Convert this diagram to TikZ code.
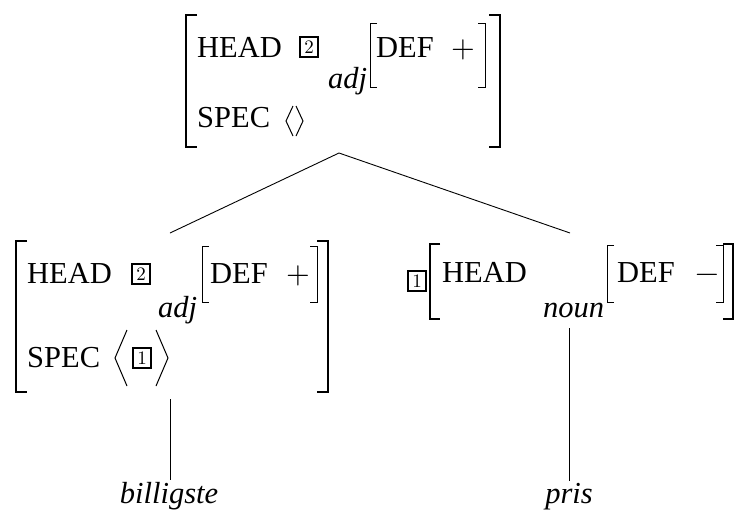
\documentclass[tikz,border=0pt]{standalone}
\usepackage{fontspec}
\setmainfont{Liberation Serif}
\newfontfamily\lmfont[Extension=.otf]{lmroman10-regular}
\begin{document}
\begin{tikzpicture}[x=1pt,y=-1pt,
  txt/.style={anchor=base west,inner sep=0pt,font=\fontsize{30.5}{36}\selectfont},
  itxt/.style={anchor=base west,inner sep=0pt,font=\fontsize{30.5}{36}\selectfont\itshape},
  sym/.style={anchor=base west,inner sep=0pt,font=\fontsize{30.5}{36}\selectfont\lmfont},
  wtxt/.style={anchor=base,inner sep=0pt,font=\fontsize{30.5}{36}\selectfont\itshape},
  outerbr/.style={line width=2.4pt},
  innerbr/.style={line width=1pt},
  tagbox/.style={draw,line width=2.2pt,minimum width=18pt,minimum height=20pt,inner sep=0pt,font=\fontsize{19}{19}\selectfont\lmfont},
  angl/.style={line width=1pt},
  branch/.style={line width=0.9pt}]
\useasboundingbox (0,0) rectangle (739,512);

% ---------- top AVM ----------
\draw[outerbr] (197,15) -- (186,15) -- (186,147) -- (197,147);
\draw[outerbr] (489,15) -- (500,15) -- (500,147) -- (489,147);
\node[txt] (tHead) at (197,57) {HEAD};
\node[tagbox] (tTag) at (309,47) {2};
\node[itxt] (tAdj) at (328,88) {adj};
\draw[innerbr] (377,23) -- (370,23) -- (370,87) -- (377,87);
\node[txt] (tDef) at (376,57) {DEF};
\node[sym] (tPlus) at (451,57) {+};
\draw[innerbr] (478,23) -- (485,23) -- (485,87) -- (478,87);
\node[txt] (tSpec) at (197,127) {SPEC};
\draw[angl] (293,106) -- (286,121) -- (293,136);
\draw[angl] (296,106) -- (303,121) -- (296,136);

% ---------- bottom-left AVM ----------
\draw[outerbr] (27,241) -- (16,241) -- (16,392) -- (27,392);
\draw[outerbr] (317,241) -- (328,241) -- (328,392) -- (317,392);
\node[txt] (lHead) at (27,283) {HEAD};
\node[tagbox] (lTag) at (141,274) {2};
\node[itxt] (lAdj) at (158,317) {adj};
\draw[innerbr] (209,246) -- (202,246) -- (202,302) -- (209,302);
\node[txt] (lDef) at (210,283) {DEF};
\node[sym] (lPlus) at (286,283) {+};
\draw[innerbr] (310,246) -- (317,246) -- (317,302) -- (310,302);
\node[txt] (lSpec) at (27,367) {SPEC};
\draw[angl] (127,330) -- (115,358) -- (127,386);
\node[tagbox,line width=1.7pt] (lSpecTag) at (142,358) {1};
\draw[angl] (156,330) -- (168,358) -- (156,386);

% ---------- bottom-right AVM ----------
\node[tagbox,line width=1.7pt] (rTag) at (417,281) {1};
\draw[outerbr] (440,244) -- (430,244) -- (430,319) -- (440,319);
\draw[outerbr] (723,244) -- (733,244) -- (733,319) -- (723,319);
\node[txt] (rHead) at (442,282) {HEAD};
\node[itxt] (rNoun) at (543,317) {noun};
\draw[innerbr] (614,245) -- (607,245) -- (607,302) -- (614,302);
\node[txt] (rDef) at (617,282) {DEF};
\node[sym] (rMinus) at (695,282) {−};
\draw[innerbr] (716,245) -- (723,245) -- (723,302) -- (716,302);

% ---------- words ----------
\node[wtxt] (w1) at (169,503) {billigste};
\node[wtxt] (w2) at (569,503) {pris};

% ---------- tree ----------
\coordinate (apex) at (339,153);
\coordinate (lTop) at (170,233);
\coordinate (rTop) at (570,233);
\coordinate (lBot) at (170,399);
\coordinate (rBot) at (569,328);
\coordinate (w1Top) at (170,480);
\coordinate (w2Top) at (569,481);
\draw[branch] (lTop) -- (apex) -- (rTop);
\draw[branch] (lBot) -- (w1Top);
\draw[branch] (rBot) -- (w2Top);
\end{tikzpicture}
\end{document}
